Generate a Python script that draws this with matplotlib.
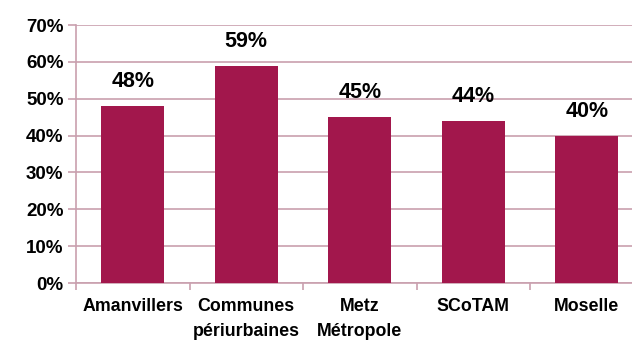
import matplotlib.pyplot as plt
import numpy as np

plt.rcParams['font.family'] = ['Liberation Sans', 'DejaVu Sans']

territoires = ['Amanvillers', 'Communes\npériurbaines', 'Metz\nMétropole', 'SCoTAM', 'Moselle']
parts = [48, 59, 45, 44, 40]

bar_color = '#A2174C'
grid_color = '#C9A0AE'

fig = plt.figure(figsize=(6.32, 3.45), dpi=100)
ax = fig.add_axes([0.1203, 0.1797, 0.898, 0.7478])

x = np.arange(len(territoires))
bars = ax.bar(x, parts, width=0.555, color=bar_color, zorder=3)

# étiquettes de valeur au-dessus des barres
for xi, v in zip(x, parts):
    ax.annotate(f'{v}%', (xi, v), xytext=(0, 10), textcoords='offset points',
                ha='center', va='bottom', fontsize=15.5, fontweight='bold')

ax.set_xlim(-0.5, len(territoires) - 0.5)
ax.set_ylim(0, 70)
ax.set_yticks(range(0, 71, 10))
ax.set_yticklabels([f'{t}%' for t in range(0, 71, 10)], fontsize=13.5, fontweight='bold')
ax.yaxis.grid(True, color=grid_color, linewidth=1.2, zorder=0)

ax.set_xticks(x)
ax.set_xticklabels(territoires, fontsize=12.8, fontweight='bold', linespacing=1.6)
ax.set_xticks(np.arange(-0.5, len(territoires), 1), minor=True)
ax.tick_params(axis='x', which='major', length=0, pad=11)
ax.tick_params(axis='x', which='minor', length=5, color=grid_color, width=1.2)
ax.tick_params(axis='y', length=6, color=grid_color, width=1.2, pad=3)

for s in ['top', 'right']:
    ax.spines[s].set_visible(False)
for s in ['left', 'bottom']:
    ax.spines[s].set_color(grid_color)
    ax.spines[s].set_linewidth(1.2)

fig.savefig('out.png', dpi=100)
